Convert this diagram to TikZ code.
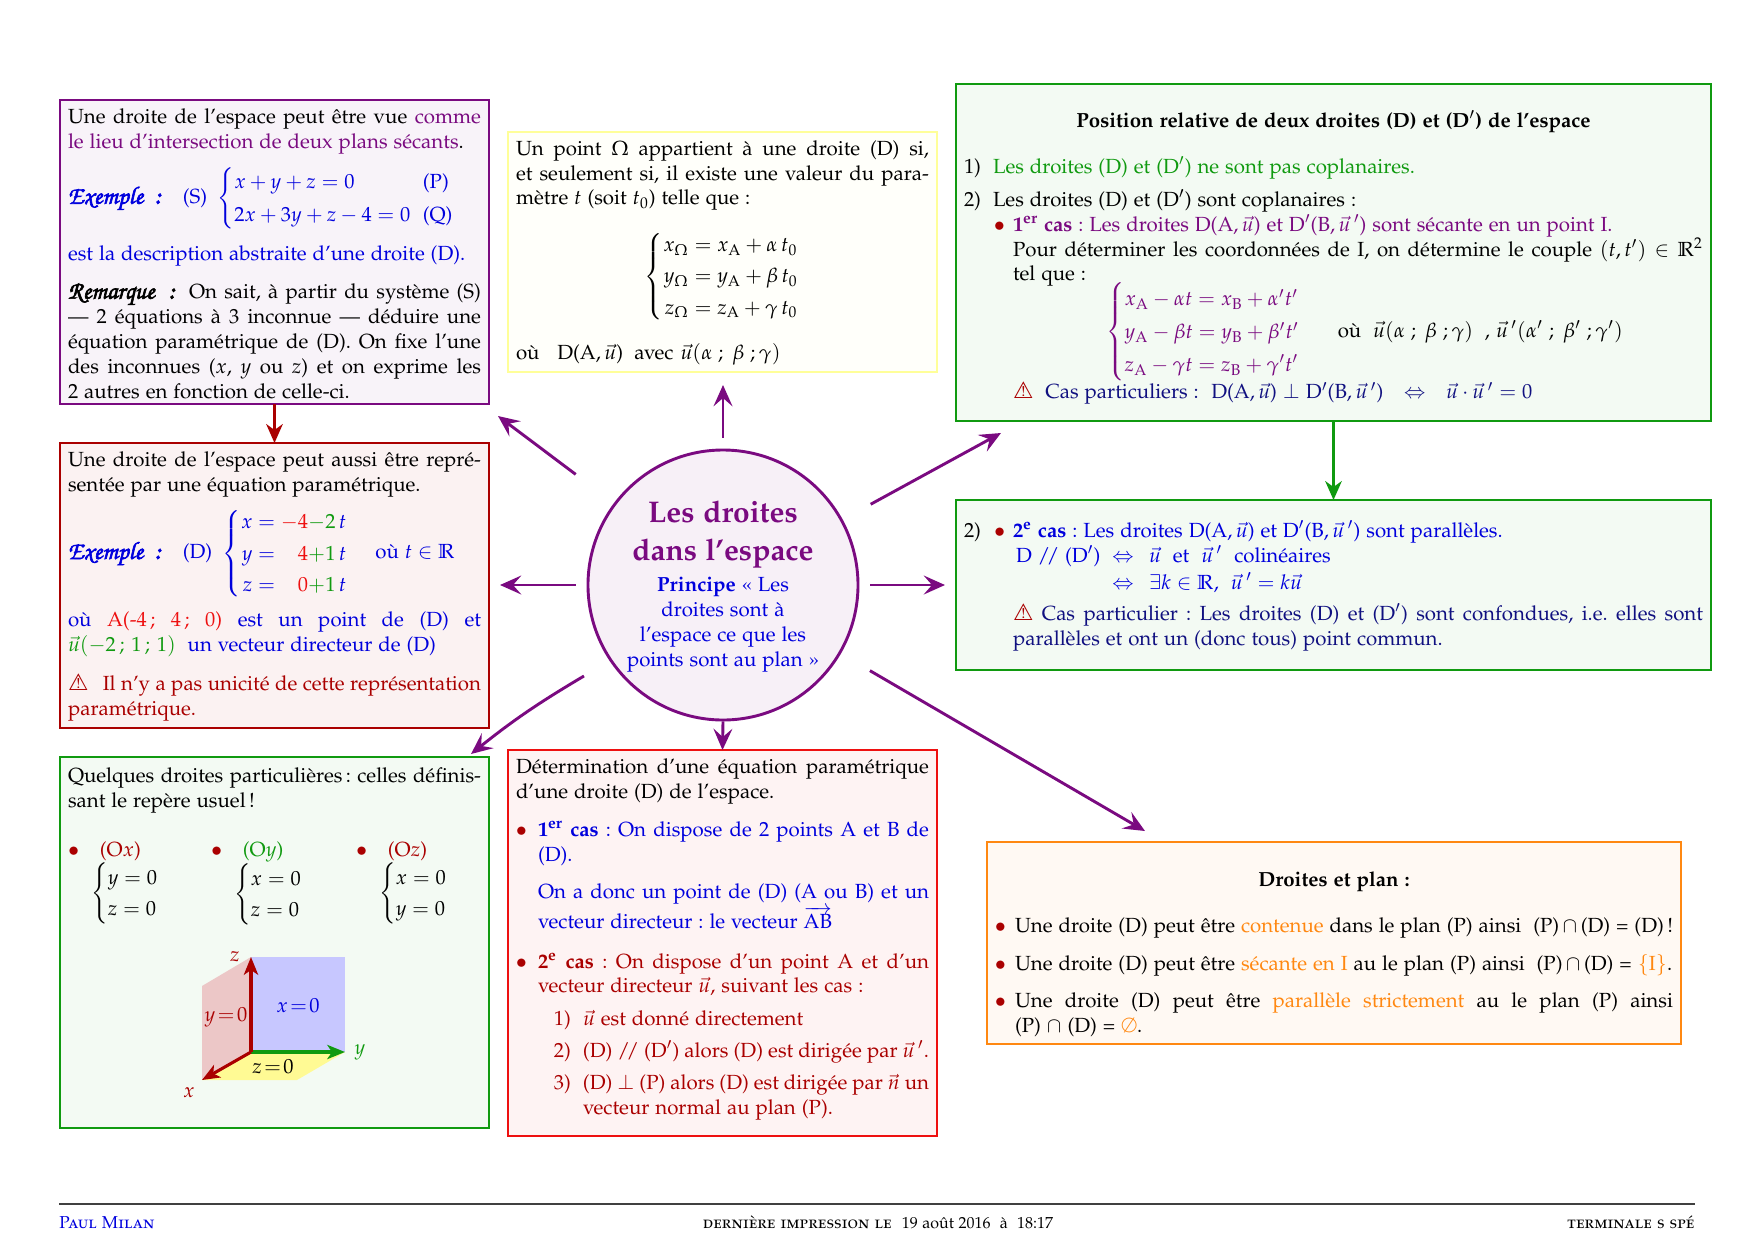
\documentclass[tikz,border=0pt]{standalone}
\usepackage[T1]{fontenc}
\usepackage[sc]{mathpazo}
\usepackage{amsmath}
\usetikzlibrary{arrows.meta}
\definecolor{cpurple}{HTML}{7A0A80}
\definecolor{cdark}{HTML}{AA0000}
\definecolor{cgreen}{HTML}{109A10}
\definecolor{cbright}{HTML}{EE1010}
\definecolor{cyellow}{HTML}{FFFF99}
\definecolor{corange}{HTML}{FF8811}
\definecolor{cblue}{HTML}{0000DD}
\definecolor{cnavy}{HTML}{101080}
\newlength{\pxlen}\setlength{\pxlen}{0.16933mm}
\font\warnfont="DejaVu Sans" at 11pt
\newcommand{\danger}{{\warnfont\char"26A0\relax}}
\newcommand{\bodyfont}{\fontsize{9.85}{12}\selectfont}
\newcommand{\exfont}{\fontfamily{pzc}\fontseries{m}\fontshape{it}\selectfont\large}
\newcommand{\marker}[1]{{\exfont\special{pdf:code 2 Tr 0.3 w}#1\special{pdf:code 0 Tr}}}
\newcommand{\exm}{\marker{Exemple\ \ :}}
\newcommand{\rem}{\marker{Remarque\ \ :}}
\newcommand{\dotb}[1]{\textcolor{cdark}{$\bullet$}}
\newcommand{\panel}[8]{%
  \node[panelbox=#2, anchor=north west, inner xsep=8\pxlen, inner ysep=0pt, outer sep=0pt] (#1) at (#3,#4)
  {\begin{minipage}[c][#6\pxlen][t]{\dimexpr#5\pxlen-16\pxlen\relax}\bodyfont\frenchspacing\setlength{\parindent}{0pt}\setlength{\emergencystretch}{3em}\tolerance=9999 \vspace*{#7}#8\end{minipage}};}
\tikzset{
  panelbox/.style={draw=#1, line width=1.3pt, fill=#1!5, rectangle},
  hubarrow/.style={draw=cpurple, line width=1.4pt, -{Stealth[length=3.6mm,width=3.2mm,inset=1.4mm]}},
  linkarrow/.style={line width=1.3pt, -{Stealth[length=3.2mm,width=2.8mm,inset=1mm]}},
  axisarrow/.style={line width=1.5pt, -{Stealth[length=3mm,width=2.4mm,inset=0.8mm]}},
  lab/.style={inner sep=0pt, font=\bodyfont},
  footer/.style={inner sep=0pt, font=\fontsize{8.3}{10}\selectfont}
}
\begin{document}
\begin{tikzpicture}[x=0.16933mm,y=-0.16933mm]
\useasboundingbox (0,0) rectangle (1754,1240);
% hub
\node[circle, draw=cpurple, line width=1.4pt, fill=cpurple!6, minimum size=270*0.16933mm, inner sep=0pt, align=center] (hub) at (723,585)
 {\Large\bfseries\color{cpurple}\rule{0pt}{12pt}Les droites\\[6pt]\Large\bfseries\color{cpurple}dans l'espace\\[3pt]
  \bodyfont\color{cblue}\textbf{Principe} \guillemotleft~Les\\[0pt]\bodyfont\color{cblue}droites sont \`a\\\bodyfont\color{cblue}l'espace ce que les\\\bodyfont\color{cblue}points sont au plan~\guillemotright};
% purple
\panel{pbox}{cpurple}{60}{100}{429}{304}{4pt}{%
Une droite de l'espace peut \^etre vue \textcolor{cpurple}{comme\linebreak le lieu d'intersection de deux plans s\'ecants}.\par\vspace{5pt}
\textcolor{cblue}{\exm\hspace{10.7pt}(S)\,\,\,$\left\{\renewcommand{\arraystretch}{1.3}\begin{array}{@{}l@{\hspace{6pt}}l}x+y+z=0 & \text{(P)}\\ 2x+3y+z-4=0 & \text{(Q)}\end{array}\right.$}\par\vspace{6pt}
\textcolor{cblue}{est la description abstraite d'une droite (D).}\par\vspace{6.5pt}
\rem\hspace{7pt}On sait, \`a partir du syst\`eme (S)\linebreak --- 2 \'equations \`a 3 inconnue --- d\'eduire une\linebreak \'equation param\'etrique de (D). On fixe l'une\linebreak des inconnues ($x$, $y$ ou $z$) et on exprime les\linebreak 2 autres en fonction de celle-ci.}
% dark red
\panel{dbox}{cdark}{60}{443}{429}{285}{4pt}{%
Une droite de l'espace peut aussi \^etre repr\'e-\linebreak sent\'ee par une \'equation param\'etrique.\par\vspace{4pt}
\textcolor{cblue}{\exm\hspace{10.7pt}(D)\,\,\,$\left\{\renewcommand{\arraystretch}{1.25}\begin{array}{@{}r@{\;=\;}r@{}l}x & \textcolor{cbright}{-4}\textcolor{cgreen}{-2}\,& t\\ y & \textcolor{cbright}{4}\textcolor{cgreen}{+1}\,& t\\ z & \textcolor{cbright}{0}\textcolor{cgreen}{+1}\,& t\end{array}\right.$\hspace{5pt} o\`u $t\in\mathbb{R}$}\par\vspace{4.6pt}
\textcolor{cblue}{o\`u \textcolor{cbright}{A(-4\,; 4\,; 0)} est un point de (D) et\linebreak \textcolor{cgreen}{$\vec{u}(-2\,;\,1\,;\,1)$}\ \ un vecteur directeur de (D)}\par\vspace{6.5pt}
\textcolor{cdark}{\danger\ \ \,Il n'y a pas unicit\'e de cette repr\'esentation\linebreak param\'etrique.}}
% left green
\panel{gbox}{cgreen}{60}{757}{429}{371}{5pt}{%
Quelques droites particuli\`eres\,: celles d\'efinis-\linebreak sant le rep\`ere usuel\,!\par\vspace{12pt}
\parbox[t]{143\pxlen}{\dotb{}\hspace{10pt}\textcolor{cdark}{(O$x$)}\\[-0.5pt]\hspace*{11pt}$\left\{\renewcommand{\arraystretch}{1.25}\begin{array}{@{}l}y=0\\ z=0\end{array}\right.$}%
\parbox[t]{145\pxlen}{\dotb{}\hspace{10pt}\textcolor{cgreen}{(O$y$)}\\[-0.5pt]\hspace*{11pt}$\left\{\renewcommand{\arraystretch}{1.25}\begin{array}{@{}l}x=0\\ z=0\end{array}\right.$}%
\parbox[t]{110\pxlen}{\dotb{}\hspace{10pt}\textcolor{cdark}{(O$z$)}\\[-0.5pt]\hspace*{11pt}$\left\{\renewcommand{\arraystretch}{1.25}\begin{array}{@{}l}x=0\\ y=0\end{array}\right.$}}
% 3D sketch
\coordinate (O) at (251,1052);
\coordinate (Ex) at (202,1080);
\coordinate (Ey) at (345,1052);
\coordinate (Ez) at (251,957);
\fill[blue!22] (O) -- (Ey) -- (345,957) -- (Ez) -- cycle;
\fill[cdark!22] (O) -- (Ex) -- (202,986) -- (Ez) -- cycle;
\fill[yellow!42] (O) -- (Ey) -- (297,1080) -- (Ex) -- cycle;
\draw[axisarrow, draw=cgreen] (O) -- (Ey);
\draw[axisarrow, draw=cdark] (O) -- (Ez);
\draw[axisarrow, draw=cdark] (O) -- (Ex);
\node[lab, text=cdark] (lz) at (235,957) {$z$};
\node[lab, text=cgreen] (ly) at (360,1052) {$y$};
\node[lab, text=cdark] (lx) at (189,1093) {$x$};
\node[lab, text=cdark] (ly0) at (226,1017) {$y\!=\!0$};
\node[lab, text=cblue] (lx0) at (298,1006) {$x\!=\!0$};
\node[lab] (lz0) at (273,1067) {$z\!=\!0$};
% yellow
\panel{ybox}{cyellow}{508}{132}{429}{240}{4pt}{%
Un point $\Omega$ appartient \`a une droite (D) si,\linebreak et seulement si, il existe une valeur du para-\linebreak m\`etre $t$ (soit $t_0$) telle que :\par\vspace{8.3pt}
{\centering\hspace*{5pt}$\left\{\renewcommand{\arraystretch}{1.25}\begin{array}{@{}r@{\;=\;}l}x_\Omega & x_{\mathrm{A}}+\alpha\,t_0\\ y_\Omega & y_{\mathrm{A}}+\beta\,t_0\\ z_\Omega & z_{\mathrm{A}}+\gamma\,t_0\end{array}\right.$\par}\vspace{8.7pt}
o\`u\ \ \ D(A,\,$\vec{u}$)\hspace{5.5pt}avec\hspace{3.4pt}$\vec{u}(\alpha\;;\;\beta\;;\gamma)$}
% bright red
\panel{rbox}{cbright}{508}{750}{429}{386}{4pt}{%
D\'etermination d'une \'equation param\'etrique\linebreak d'une droite (D) de l'espace.\par\vspace{6.5pt}
{\color{cblue}{\leftskip=22\pxlen\noindent\llap{\textcolor{cdark}{$\bullet$}\hspace{11\pxlen}}\textbf{1\textsuperscript{er} cas} : On dispose de 2 points A et B de\linebreak (D).\par\vspace{6pt}
On a donc un point de (D) (A ou B) et un\linebreak vecteur directeur : le vecteur $\overrightarrow{\mathrm{AB}}$\par}}\vspace{7pt}
{\color{cdark}{\leftskip=22\pxlen\noindent\llap{$\bullet$\hspace{11\pxlen}}\textbf{2\textsuperscript{e} cas} : On dispose d'un point A et d'un\linebreak vecteur directeur $\vec{u}$, suivant les cas :\par}\vspace{3.5pt}
{\leftskip=67\pxlen\noindent\llap{1)\hspace{12\pxlen}}$\vec{u}$ est donn\'e directement\par\vspace{3.5pt}
\noindent\llap{2)\hspace{12\pxlen}}(D) /\!/ (D$'$) alors (D) est dirig\'ee par $\vec{u}\,'$.\par\vspace{3.5pt}
\noindent\llap{3)\hspace{12\pxlen}}(D) $\perp$ (P) alors (D) est dirig\'ee par $\vec{n}$ un\linebreak vecteur normal au plan (P).\par}}}
% top right
\panel{tbox}{cgreen}{956}{84}{755}{337}{13pt}{%
{\centering\textbf{Position relative de deux droites (D) et (D$'$) de l'espace}\par}\vspace{10pt}
\makebox[29\pxlen][l]{1)}\textcolor{cgreen}{Les droites (D) et (D$'$) ne sont pas coplanaires.}\par\vspace{4pt}
\makebox[29\pxlen][l]{2)}Les droites (D) et (D$'$) sont coplanaires :\par
{\leftskip=49\pxlen\noindent\llap{\textcolor{cdark}{$\bullet$}\hspace{8\pxlen}}\textcolor{cpurple}{\textbf{1\textsuperscript{er} cas} : Les droites D(A,\,$\vec{u}$) et D$'$(B,\,$\vec{u}\,'$) sont s\'ecante en un point I.}\par
Pour d\'eterminer les coordonn\'ees de I, on d\'etermine le couple $(t,t')\in\mathbb{R}^2$\linebreak tel que :\par\vspace{-3pt}
\hspace*{93\pxlen}\textcolor{cpurple}{$\left\{\renewcommand{\arraystretch}{1.32}\begin{array}{@{}l}x_{\mathrm{A}}-\alpha t=x_{\mathrm{B}}+\alpha't'\\ y_{\mathrm{A}}-\beta t=y_{\mathrm{B}}+\beta't'\\ z_{\mathrm{A}}-\gamma t=z_{\mathrm{B}}+\gamma't'\end{array}\right.$}\hspace{26\pxlen}o\`u\ \ $\vec{u}(\alpha\;;\;\beta\;;\gamma)$\ \ ,\ $\vec{u}\,'(\alpha'\;;\;\beta'\;;\gamma')$\par\vspace{-0.5pt}
\textcolor{cdark}{\danger}\ \ \textcolor{cnavy}{Cas particuliers :\hspace{6pt}D(A,\,$\vec{u}$) $\perp$ D$'$(B,\,$\vec{u}\,'$)\quad$\Leftrightarrow$\quad$\vec{u}\cdot\vec{u}\,'=0$}\par}}
% second right
\panel{sbox}{cgreen}{956}{500}{755}{170}{10pt}{%
{\leftskip=49\pxlen\noindent\llap{\makebox[49\pxlen][l]{2)\hspace{13\pxlen}\textcolor{cdark}{$\bullet$}}}\textcolor{cblue}{\textbf{2\textsuperscript{e} cas} : Les droites D(A,\,$\vec{u}$) et D$'$(B,\,$\vec{u}\,'$) sont parall\`eles.}\par
{\color{cblue}\hspace*{3\pxlen}\makebox[96\pxlen][l]{D /\!/ (D$'$)}$\Leftrightarrow$\ \ \,$\vec{u}$\ \ et\ \ $\vec{u}\,'$\ \ colin\'eaires\par\vspace{1pt}
\hspace*{3\pxlen}\makebox[96\pxlen][l]{}$\Leftrightarrow$\ \ \,$\exists k\in\mathbb{R}$,\ \ $\vec{u}\,'=k\vec{u}$\par}\vspace{3pt}
\textcolor{cnavy}{\textcolor{cdark}{\danger}\hspace{4pt}Cas particulier : Les droites (D) et (D$'$) sont confondues, i.e. elles sont\linebreak parall\`eles et ont un (donc tous) point commun.}\par}}
% orange
\panel{obox}{corange}{987}{842}{694}{202}{14.5pt}{%
{\centering\textbf{Droites et plan :}\par}\vspace{10pt}
{\leftskip=20\pxlen\rightskip=0pt\noindent\llap{\textcolor{cdark}{$\bullet$}\hspace{9\pxlen}}Une droite (D) peut \^etre \textcolor{corange}{contenue} dans le plan (P) ainsi\ \ (P)$\,\cap\,$(D) = (D)\,!\par\vspace{6.3pt}
\noindent\llap{\textcolor{cdark}{$\bullet$}\hspace{9\pxlen}}Une droite (D) peut \^etre \textcolor{corange}{s\'ecante en I} au le plan (P) ainsi\ \ (P)$\,\cap\,$(D) = \textcolor{corange}{$\{$I$\}$}.\par\vspace{5.8pt}
\noindent\llap{\textcolor{cdark}{$\bullet$}\hspace{9\pxlen}}Une droite (D) peut \^etre \textcolor{corange}{parall\`ele strictement} au le plan (P) ainsi\linebreak (P) $\cap$ (D) = \textcolor{corange}{$\emptyset$}.\par}}
% connectors
\coordinate (eUL) at (498,416);
\coordinate (eUR) at (1001,433);
\coordinate (eL) at (500,585);
\coordinate (eR) at (945,585);
\coordinate (eU) at (723,385);
\coordinate (eLR) at (1145,831);
\coordinate (sLL) at (584,676);
\coordinate (eLL) at (471,754);
\draw[hubarrow, shorten <=31.2mm] (hub.center) -- (eUL);
\draw[hubarrow, shorten <=28.5mm] (hub.center) -- (eUR);
\draw[hubarrow, shorten <=24.9mm] (hub.center) -- (eL);
\draw[hubarrow, shorten <=24.9mm] (hub.center) -- (eR);
\draw[hubarrow, shorten <=24.9mm] (hub.center) -- (eU);
\draw[hubarrow, shorten <=28.8mm] (hub.center) -- (eLR);
\draw[hubarrow] (sLL) to[bend right=4] (eLL);
\draw[hubarrow] (hub.south) -- (rbox.north);
\draw[linkarrow, draw=cdark] (pbox.south) -- (dbox.north);
\draw[linkarrow, draw=cgreen] (tbox.south) -- (sbox.north);
% footer
\coordinate (fl) at (59,1204);
\coordinate (fr) at (1695,1204);
\draw[black!75, line width=0.6pt] (fl) -- (fr);
\node[footer, anchor=base west, text=cblue] (f1) at (59,1228) {\textsc{Paul Milan}};
\node[footer, anchor=base] (f2) at (878,1228) {\textsc{derni\`ere impression le}\ \ {\fontsize{7.7}{10}\selectfont 19 ao\^ut 2016\ \ \`a\ \ 18:17}};
\node[footer, anchor=base east] (f3) at (1695,1228) {\textsc{terminale s sp\'e}};
\end{tikzpicture}
\end{document}
